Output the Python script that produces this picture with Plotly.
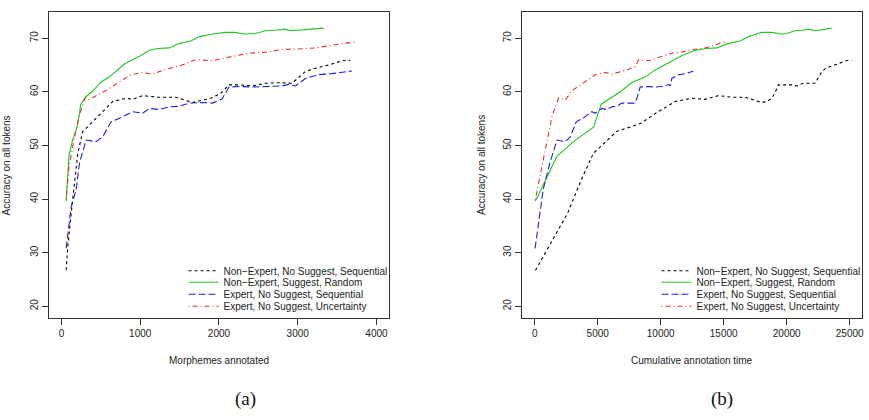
import plotly.graph_objects as go

W, H = 869, 420

series_names = [
    "Non\u2212Expert, No Suggest, Sequential",
    "Non\u2212Expert, Suggest, Random",
    "Expert, No Suggest, Sequential",
    "Expert, No Suggest, Uncertainty",
]

# Non-Expert, No Suggest, Sequential
nens_acc = [26.7, 31.1, 37.3, 43.6, 48.5, 52.6, 54.1, 56.0, 58.2, 58.8,
            58.6, 59.3, 59.0, 59.0, 58.5, 58.0, 58.3, 58.8, 59.7, 61.3,
            61.3, 61.1, 61.6, 61.7, 61.6, 63.8, 64.4, 65.0, 65.8, 65.9]
nens_morph = [59, 80, 123, 165, 207, 270, 376, 502, 650, 819,
              903, 1030, 1219, 1452, 1557, 1662, 1747, 1895, 2021, 2127,
              2253, 2422, 2591, 2759, 2928, 3097, 3224, 3392, 3561, 3667]
nens_time = [60, 1100, 2600, 3700, 4650, 6500, 8400, 9600, 11150, 12465,
             13530, 14580, 15634, 16696, 17400, 18014, 18500, 18800, 19050, 19334,
             20390, 20800, 21315, 22000, 22240, 22800, 23100, 23800, 24700, 25150]

# Non-Expert, Suggest, Random
nesr_acc = [39.6, 48.0, 51.0, 53.4, 57.7, 59.0, 60.2, 61.8, 62.8, 64.0,
            65.2, 66.0, 66.8, 67.7, 68.1, 68.2, 69.0, 69.5, 70.3, 70.8,
            71.1, 71.1, 70.8, 70.9, 71.4, 71.5, 71.7, 71.4, 71.5, 71.7, 71.9]
nesr_morph = [59, 95, 140, 200, 245, 305, 400, 500, 610, 700,
              800, 900, 1010, 1110, 1220, 1370, 1490, 1640, 1750, 1920,
              2085, 2190, 2340, 2460, 2590, 2720, 2840, 2900, 3050, 3180, 3330]
nesr_time = [50, 1770, 3225, 4675, 5285, 6100, 6900, 7750, 8800, 9500,
             10400, 11050, 11700, 12700, 13650, 14450, 15300, 16300, 16950, 17600,
             18000, 18800, 19600, 20000, 20650, 21200, 21700, 22300, 22700, 23100, 23560]

# Expert, No Suggest, Sequential
ens_acc = [30.8, 38.6, 41.7, 46.7, 51.0, 50.7, 51.6, 54.4, 55.2, 56.3,
           56.0, 56.9, 56.7, 57.2, 57.3, 57.9, 58.0, 57.9, 58.7, 60.9,
           61.0, 60.9, 61.0, 61.1, 61.4, 61.1, 62.5, 63.2, 63.4, 63.9]
ens_morph = [59, 123, 186, 228, 312, 439, 523, 629, 755, 903,
             1030, 1114, 1240, 1367, 1494, 1620, 1789, 1916, 2040, 2127,
             2253, 2422, 2591, 2802, 2886, 2970, 3097, 3266, 3434, 3688]
ens_time = [30, 450, 670, 1200, 1770, 2430, 2830, 3300, 3900, 4540,
            4800, 5333, 5700, 6125, 6500, 6918, 7713, 7900, 8100, 8372,
            9000, 9560, 10000, 10400, 10618, 10750, 10882, 11410, 12000, 12599]

# Expert, No Suggest, Uncertainty
enu_acc = [39.9, 46.0, 50.4, 55.4, 58.9, 58.5, 60.2, 61.9, 63.2, 63.6,
           63.3, 64.2, 64.8, 66.0, 65.8, 66.6, 67.2, 67.4, 67.9, 68.0,
           68.2, 68.7, 69.1, 69.3]
enu_morph = [59, 95, 150, 220, 300, 340, 560, 734, 880, 1030,
             1156, 1325, 1494, 1705, 1916, 2165, 2380, 2591, 2802, 3000,
             3224, 3434, 3604, 3751]
enu_time = [50, 580, 975, 1370, 1902, 2430, 2957, 4017, 4810, 5600,
            6130, 7448, 8000, 8240, 9030, 10090, 10880, 11670, 12465, 13000,
            13530, 14320, 14700, 15110]

acc_series = [nens_acc, nesr_acc, ens_acc, enu_acc]
morph_series = [nens_morph, nesr_morph, ens_morph, enu_morph]
time_series = [nens_time, nesr_time, ens_time, enu_time]

x_ticks_a = [0, 1000, 2000, 3000, 4000]
x_ticks_b = [0, 5000, 10000, 15000, 20000, 25000]
y_ticks = [20, 30, 40, 50, 60, 70]

colors = ["#000000", "#22c422", "#1f1fe0", "#e03030"]
dashes = ["3px,3px", "solid", "7px,3px", "1px,3px,5px,3px"]

fig = go.Figure()

legend_rows_px = [270.7, 282.3, 294.3, 306.3]

for p, (xs_all, xa, ya) in enumerate([(morph_series, "x", "y"), (time_series, "x2", "y2")]):
    for i in range(4):
        leg = "legend" if (p * 4 + i) == 0 else "legend%d" % (p * 4 + i + 1)
        fig.add_trace(go.Scatter(
            x=xs_all[i], y=acc_series[i], mode="lines",
            name=series_names[i], xaxis=xa, yaxis=ya,
            line=dict(color=colors[i], width=1.1, dash=dashes[i]),
            legend=leg, showlegend=True, hoverinfo="skip",
        ))

font = dict(family="Liberation Sans, Arial, sans-serif", size=10, color="#222")
axis_common = dict(
    showline=True, mirror=True, linecolor="#333", linewidth=1,
    ticks="outside", ticklen=6, tickcolor="#333", tickwidth=1,
    showgrid=False, zeroline=False, tickfont=font, tickformat="d",
)

yd = [1 - 318 / H, 1 - 12 / H]
layout = dict(
    width=W, height=H, margin=dict(l=0, r=0, t=0, b=0),
    paper_bgcolor="white", plot_bgcolor="white",
    font=font,
    xaxis=dict(domain=[49 / W, 390 / W], range=[-160, 4160], tickvals=x_ticks_a,
               anchor="y", **axis_common),
    yaxis=dict(domain=yd, range=[17.8, 74.9], tickvals=y_ticks, tickangle=-90,
               anchor="x", **axis_common),
    xaxis2=dict(domain=[523.3 / W, 864.3 / W], range=[-1000, 26000], tickvals=x_ticks_b,
                anchor="y2", **axis_common),
    yaxis2=dict(domain=yd, range=[17.8, 74.9], tickvals=y_ticks, tickangle=-90,
                anchor="x2", **axis_common),
)

leg_x = [184 / W, 658 / W]
for p in range(2):
    for i in range(4):
        k = p * 4 + i
        key = "legend" if k == 0 else "legend%d" % (k + 1)
        layout[key] = dict(
            x=leg_x[p], y=1 - legend_rows_px[i] / H, xanchor="left", yanchor="middle",
            xref="paper", yref="paper", bgcolor="rgba(0,0,0,0)", borderwidth=0,
            font=font, itemwidth=30, tracegroupgap=0,
        )

fig.update_layout(**layout)

annots = [
    dict(text="Accuracy on all tokens", x=7.5 / W, y=1 - 165 / H, textangle=-90),
    dict(text="Accuracy on all tokens", x=483 / W, y=1 - 165 / H, textangle=-90),
    dict(text="Morphemes annotated", x=219.5 / W, y=1 - 360 / H),
    dict(text="Cumulative annotation time", x=693.5 / W, y=1 - 360 / H),
]
for a in annots:
    fig.add_annotation(xref="paper", yref="paper", showarrow=False,
                       xanchor="center", yanchor="middle", font=font, **a)

serif = dict(family="Liberation Serif, Times New Roman, serif", size=19, color="#111")
fig.add_annotation(text="(a)", x=246.5 / W, y=1 - 399 / H, xref="paper", yref="paper",
                   showarrow=False, xanchor="center", yanchor="middle", font=serif)
fig.add_annotation(text="(b)", x=724 / W, y=1 - 399 / H, xref="paper", yref="paper",
                   showarrow=False, xanchor="center", yanchor="middle", font=serif)

fig.write_html("out.html")
